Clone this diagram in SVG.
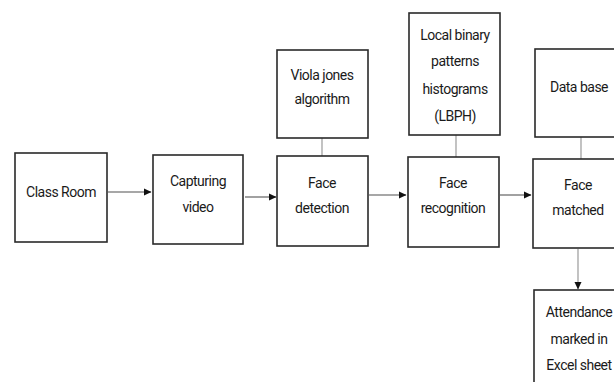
<svg xmlns="http://www.w3.org/2000/svg" width="614" height="382" viewBox="0 0 614 382">
<style>
.box{fill:#fff;stroke:#2a2a2a;stroke-width:1.6}
.t{font-family:Roboto,"Liberation Sans",Arial,sans-serif;font-size:14px;letter-spacing:-0.5px;fill:#1a1a1a;text-anchor:middle}
.c{stroke:#8a8a8a;stroke-width:1.6;fill:none}
.l{stroke:#9a9a9a;stroke-width:1.2;fill:none}
</style>
<defs>
<marker id="ah" markerWidth="8" markerHeight="8" refX="7" refY="4" orient="auto" markerUnits="userSpaceOnUse">
<path d="M0,0.5 L7.5,4 L0,7.5 Z" fill="#111"/>
</marker>
</defs>
<rect width="614" height="382" fill="#fff"/>
<g id="connectors">
<line class="c" x1="108" y1="192" x2="151" y2="192" marker-end="url(#ah)"/>
<line class="c" x1="245" y1="197" x2="276" y2="197" marker-end="url(#ah)"/>
<line class="c" x1="369" y1="195" x2="406" y2="195" marker-end="url(#ah)"/>
<line class="c" x1="500" y1="195" x2="531" y2="195" marker-end="url(#ah)"/>
<line class="l" x1="578" y1="249" x2="578" y2="289" marker-end="url(#ah)"/>
<line class="l" x1="322" y1="138" x2="322" y2="156"/>
<line class="l" x1="456" y1="135" x2="456" y2="157"/>
<line class="l" x1="581" y1="137" x2="581" y2="159"/>
</g>
<g id="classroom">
<rect class="box" x="15" y="153" width="92" height="89"/>
<text class="t" x="61" y="197">Class Room</text>
</g>
<g id="capturing">
<rect class="box" x="153" y="155" width="90" height="89"/>
<text class="t" x="198" y="186">Capturing</text>
<text class="t" x="198" y="212">video</text>
</g>
<g id="viola">
<rect class="box" x="277" y="50" width="91" height="88"/>
<text class="t" x="322" y="80">Viola jones</text>
<text class="t" x="322" y="104">algorithm</text>
</g>
<g id="facedetection">
<rect class="box" x="277" y="156" width="91" height="90"/>
<text class="t" x="322" y="188">Face</text>
<text class="t" x="322" y="213">detection</text>
</g>
<g id="lbph">
<rect class="box" x="409" y="13" width="91" height="122"/>
<text class="t" x="455" y="40">Local binary</text>
<text class="t" x="455" y="66">patterns</text>
<text class="t" x="455" y="94">histograms</text>
<text class="t" x="455" y="121">(LBPH)</text>
</g>
<g id="facerecognition">
<rect class="box" x="408" y="157" width="91" height="90"/>
<text class="t" x="453" y="188">Face</text>
<text class="t" x="453" y="213">recognition</text>
</g>
<g id="database">
<rect class="box" x="535" y="49" width="90" height="88"/>
<text class="t" x="579" y="92">Data base</text>
</g>
<g id="facematched">
<rect class="box" x="533" y="159" width="92" height="89"/>
<text class="t" x="578" y="190">Face</text>
<text class="t" x="578" y="215">matched</text>
</g>
<g id="attendance">
<rect class="box" x="534" y="290" width="92" height="100"/>
<text class="t" x="579" y="317">Attendance</text>
<text class="t" x="579" y="344">marked in</text>
<text class="t" x="579" y="370">Excel sheet</text>
</g>
</svg>
